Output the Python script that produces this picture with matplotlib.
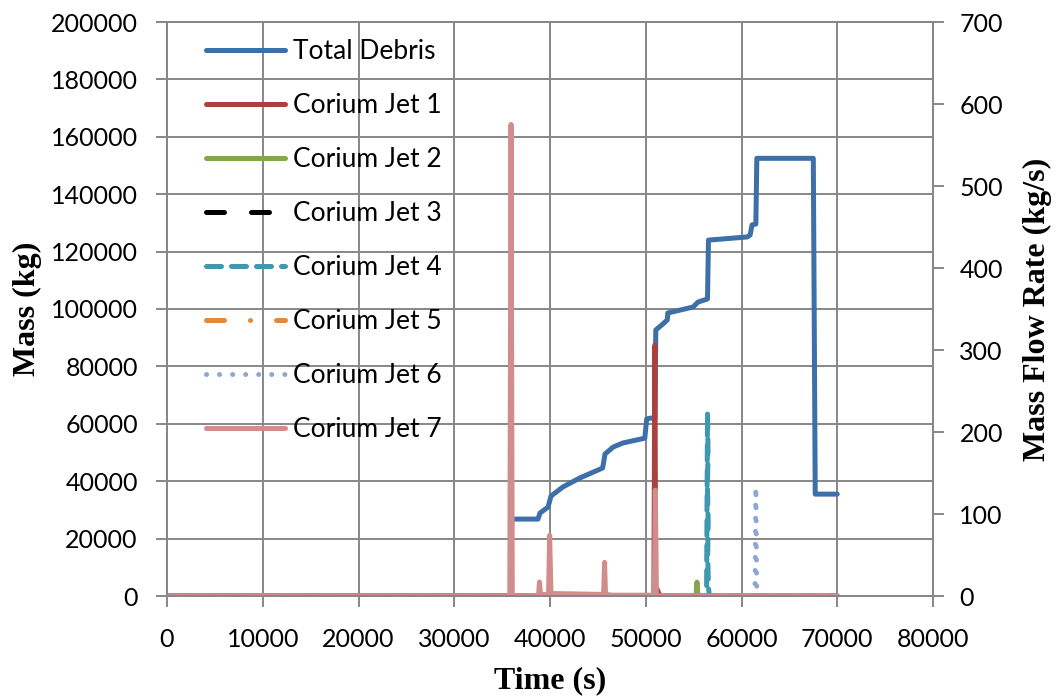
import matplotlib.pyplot as plt
import numpy as np

# total debris mass on the floor (kg), left axis
debris_t = [0, 35900, 36000, 38750, 38950, 39800, 40100, 41350, 43100, 45500, 45750,
            46600, 47600, 49900, 50100, 50550, 50950, 51050, 51800, 52250, 52300,
            54950, 55450, 56450, 56550, 60600, 60900, 61100, 61500, 61600, 67500,
            67700, 70000]
debris_m = [0, 0, 26800, 26800, 28900, 31000, 34800, 38000, 41100, 44600, 49500,
            51900, 53300, 55000, 61700, 62000, 62000, 92700, 94800, 96200, 98600,
            100700, 102400, 103500, 124000, 125100, 125800, 129300, 129600, 152500, 152500,
            35500, 35500]

# corium jet mass flow rates (kg/s), right axis
jet1_t = [0, 50850, 50950, 51050, 51200, 51400, 51600, 70000]
jet1_q = [0, 0, 306, 0, 8, 2, 0, 0]
jet2_t = [0, 55250, 55350, 55450, 70000]
jet2_q = [0, 0, 17, 0, 0]
jet3_t = [0, 70000]
jet3_q = [0, 0]
jet4_t = [0, 56350, 56450, 56500, 56450, 56520, 56470, 56550, 56650, 70000]
jet4_q = [0, 0, 224, 180, 130, 90, 50, 10, 0, 0]
jet5_t = [0, 70000]
jet5_q = [0, 0]
jet6_t = [0, 61400, 61500, 61600, 70000]
jet6_q = [0, 0, 133, 0, 0]
jet7_t = [0, 35800, 35930, 36060, 38800, 38900, 39000, 39850, 39960, 40100, 40400,
          45000, 45600, 45700, 45800, 46500, 50900, 51000, 51100, 51500, 70000]
jet7_q = [0, 0, 575, 0, 0, 17, 2, 2, 74, 3, 3,
          2, 2, 41, 2, 1, 1, 129, 1, 0, 0]

plt.rcParams['font.family'] = ['Lato', 'DejaVu Sans']
grid_c = '#878787'
lw = 3.6

fig = plt.figure(figsize=(10.56, 7.0), dpi=100)
ax = fig.add_axes([167/1056, 104/700, 766/1056, 574/700])
ax2 = ax.twinx()

l0, = ax.plot(debris_t, debris_m, color='#3D6FA8', lw=lw, solid_joinstyle='round',
              solid_capstyle='round', label='Total Debris', zorder=3)
l1, = ax2.plot(jet1_t, jet1_q, color='#A9423E', lw=lw, solid_capstyle='round',
               label='Corium Jet 1')
l2, = ax2.plot(jet2_t, jet2_q, color='#86A64B', lw=lw, solid_capstyle='round',
               label='Corium Jet 2')
l3, = ax2.plot(jet3_t, jet3_q, color='black', lw=lw, dashes=(3.6, 5.4),
               dash_capstyle='round', label='Corium Jet 3')
l4, = ax2.plot(jet4_t, jet4_q, color='#3F98B0', lw=lw, dashes=(3.0, 2.0),
               dash_capstyle='round', label='Corium Jet 4')
l5, = ax2.plot(jet5_t, jet5_q, color='#E08A3C', lw=lw,
               dashes=(3.6, 5.2, 0.01, 5.2), dash_capstyle='round',
               label='Corium Jet 5')
l6, = ax2.plot(jet6_t, jet6_q, color='#8EA7D2', lw=lw, dashes=(0.01, 2.6),
               dash_capstyle='round', label='Corium Jet 6')
l7, = ax2.plot(jet7_t, jet7_q, color='#D08D8C', lw=lw, solid_capstyle='round',
               label='Corium Jet 7')

ax.set_xlim(0, 80000)
ax.set_ylim(0, 200000)
ax2.set_ylim(0, 700)
ax.set_xticks(np.arange(0, 80001, 10000))
ax.set_yticks(np.arange(0, 200001, 20000))
ax2.set_yticks(np.arange(0, 701, 100))

ax.grid(True, color=grid_c, lw=1.4)
ax.set_axisbelow(True)
for a in (ax, ax2):
    for s in a.spines.values():
        s.set_color(grid_c)
        s.set_linewidth(1.4)
    a.tick_params(colors=grid_c, labelcolor='black', labelsize=18, length=8,
                  width=1.4, direction='out')
ax.tick_params(axis='y', pad=13)
ax.tick_params(axis='x', pad=15)
ax2.tick_params(axis='y', pad=11)

ax.set_xlabel('Time (s)', family='Liberation Serif', fontweight='bold', fontsize=23,
              labelpad=11)
ax.set_ylabel('Mass (kg)', family='Liberation Serif', fontweight='bold', fontsize=23,
              labelpad=6)
ax2.set_ylabel('Mass Flow Rate (kg/s)', family='Liberation Serif', fontweight='bold',
               fontsize=23, labelpad=14)

handles = [l0, l1, l2, l3, l4, l5, l6, l7]
leg = fig.legend(handles=handles, loc='upper left',
                 bbox_to_anchor=(206/1056, 1 - 39/700), frameon=False,
                 fontsize=19, handlelength=3.0, handletextpad=0.3,
                 labelspacing=1.1, borderpad=0, borderaxespad=0)

fig.savefig('out.png', dpi=100)
